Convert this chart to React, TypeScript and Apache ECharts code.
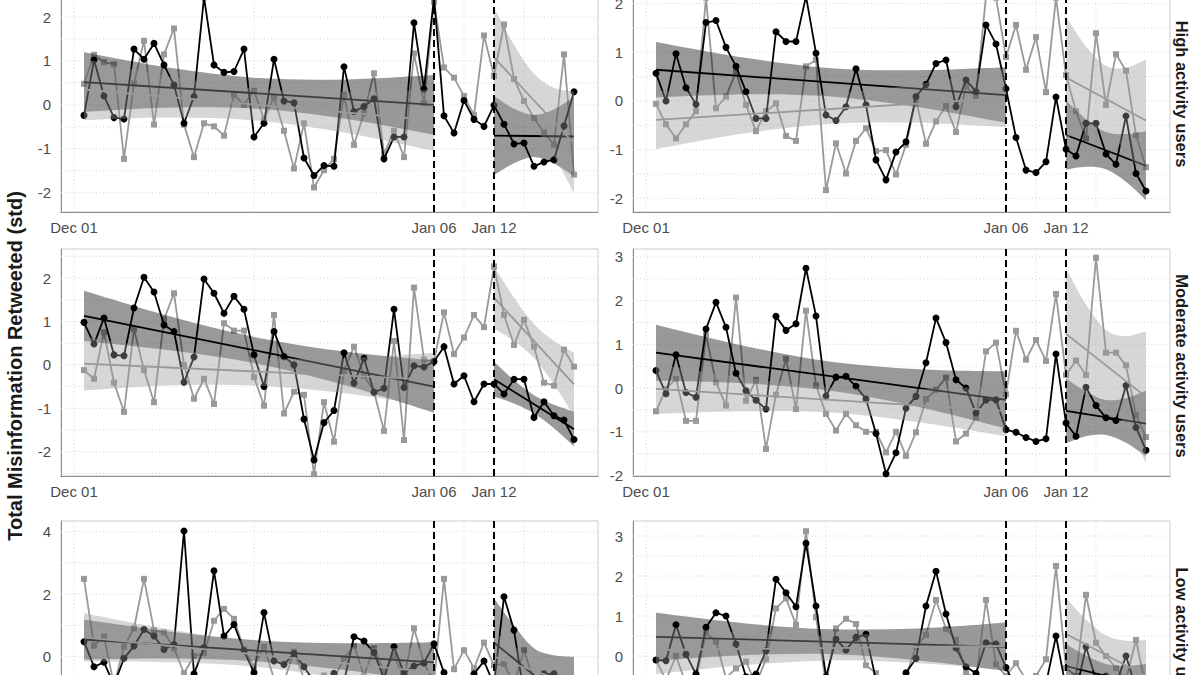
import React, { useEffect, useRef } from "react";
import * as echarts from "echarts";

// ---------- x axis (days since Dec 01) ----------
const DAYS = [1, 2, 3, 4, 5, 6, 7, 8, 9, 10, 11, 12, 13, 14, 15, 16, 17, 18, 19, 20, 21, 22, 23, 24, 25, 26, 27, 28, 29, 30, 31, 32, 33, 34, 35, 36, 37, 38, 39, 40, 41, 42, 43, 44, 45, 46, 47, 48, 49, 50];
const X_TICKS = [0, 36, 42];
const X_TICK_LABELS = ["Dec 01", "Jan 06", "Jan 12"];
const X_GRID = [0, 18, 39, 45];
const CUTOFFS = [36, 42];
const PRE_X = [1, 9.75, 18.5, 27.25, 36];
const POST_X = [42, 44, 46, 48, 50];
const PRE_FIT_X = [1, 36];
const POST_FIT_X = [42, 50];
const X_MIN = -1.3;
const X_MAX = 52.4;

// ---------- High activity users ----------
const HL_BLACK = [-0.24, 1.02, 0.20, -0.29, -0.32, 1.27, 1.04, 1.40, 0.91, 0.45, -0.42, 0.19, 2.45, 0.91, 0.74, 0.76, 1.27, -0.73, -0.42, 1.04, 0.09, 0.05, -1.21, -1.61, -1.38, -1.40, 0.87, -0.15, -0.04, 0.14, -1.23, -0.73, -0.73, 1.87, 0.36, 2.45, -0.25, -0.64, 0.10, -0.33, -0.49, -0.01, -0.44, -0.89, -0.87, -1.40, -1.30, -1.25, -0.48, 0.30];
const HL_GRAY = [0.48, 1.14, 0.97, 0.92, -1.23, 0.49, 1.46, -0.45, 1.15, 1.74, -0.45, -1.19, -0.42, -0.49, -0.70, 0.23, 0.00, 0.32, -0.33, 0.17, -0.59, -1.45, -0.42, -1.88, -1.49, -1.23, 0.23, -0.91, -0.19, 0.72, -1.11, -0.59, -1.19, 1.17, 0.04, 2.35, 0.85, 0.62, 0.20, -0.23, 1.58, 0.66, 1.83, 0.59, 0.09, -0.30, -0.63, -0.91, 1.15, -1.59];
const HL_BLACK_PRE = { fit: [0.52, 0.0], up: [1.20, 0.84, 0.61, 0.58, 0.68], lo: [-0.16, -0.06, -0.09, -0.32, -0.68] };
const HL_GRAY_PRE = { fit: [0.35, -0.35], up: [1.05, 0.64, 0.36, 0.29, 0.35], lo: [-0.35, -0.29, -0.36, -0.64, -1.05] };
const HL_BLACK_POST = { fit: [-0.70, -0.72], up: [0.20, -0.09, -0.23, -0.10, 0.18], lo: [-1.60, -1.33, -1.19, -1.34, -1.62] };
const HL_GRAY_POST = { fit: [1.08, -0.88], up: [2.21, 1.37, 0.71, 0.39, 0.30], lo: [-0.05, -0.19, -0.51, -1.17, -2.01] };

const HR_BLACK = [0.57, 0.00, 0.97, 0.27, -0.07, 1.61, 1.65, 1.10, 0.71, 0.19, -0.36, -0.36, 1.42, 1.22, 1.22, 2.15, 0.98, -0.29, -0.40, -0.12, 0.66, -0.08, -1.21, -1.62, -1.05, -0.84, 0.09, 0.34, 0.77, 0.84, -0.12, 0.43, 0.19, 1.56, 1.17, 0.25, -0.75, -1.42, -1.47, -1.25, 0.08, -0.99, -1.13, -0.46, -0.46, -1.09, -1.30, -0.31, -1.49, -1.85];
const HR_GRAY = [-0.06, -0.48, -0.77, -0.48, -0.21, 2.12, -0.15, 0.09, 0.60, -0.08, -0.62, -0.21, -0.05, -0.72, -0.82, 0.71, 0.84, -1.83, -0.87, -1.49, -0.82, -0.56, -1.03, -1.01, -1.51, -0.90, 0.02, -0.88, -0.42, -0.10, -0.64, 0.30, 0.09, 2.15, 2.12, 0.90, 1.56, 0.64, 1.31, 0.18, 2.12, 0.53, -0.21, -0.77, 1.39, -0.08, 0.96, 0.62, -0.70, -1.36];
const HR_BLACK_PRE = { fit: [0.64, 0.12], up: [1.21, 0.89, 0.67, 0.63, 0.69], lo: [0.07, 0.13, 0.09, -0.13, -0.45] };
const HR_GRAY_PRE = { fit: [-0.39, 0.06], up: [0.21, 0.13, 0.15, 0.35, 0.66], lo: [-0.99, -0.67, -0.47, -0.45, -0.54] };
const HR_BLACK_POST = { fit: [-0.70, -1.33], up: [0.01, -0.37, -0.64, -0.68, -0.62], lo: [-1.41, -1.35, -1.40, -1.66, -2.04] };
const HR_GRAY_POST = { fit: [0.48, -0.40], up: [1.73, 1.12, 0.72, 0.68, 0.85], lo: [-0.77, -0.60, -0.64, -1.04, -1.65] };

// ---------- Moderate activity users ----------
const ML_BLACK = [0.98, 0.48, 1.08, 0.23, 0.21, 1.31, 2.02, 1.68, 0.92, 0.77, -0.40, 0.18, 1.98, 1.65, 1.19, 1.58, 1.28, 0.23, -0.50, 0.77, 0.19, 0.00, -1.25, -2.19, -1.33, -1.05, 0.28, -0.42, 0.15, -0.63, -0.54, 1.28, -0.52, -0.02, -0.05, 0.08, 0.42, -0.44, -0.25, -0.85, -0.44, -0.44, -0.67, -0.33, -0.33, -1.21, -0.85, -1.17, -1.27, -1.72];
const ML_GRAY = [-0.12, -0.32, 0.75, -0.41, -1.08, 0.82, -0.12, -0.86, 1.05, 1.65, 0.00, -0.78, -0.32, -0.90, 0.96, 0.79, 0.79, -0.28, -0.94, 1.15, -1.12, -0.62, -0.69, -2.52, -0.86, -1.77, -0.14, 0.42, -0.25, -0.62, -1.52, 0.55, -1.73, 1.78, 0.12, 0.09, 1.21, 0.25, 0.63, 1.15, 0.87, 2.27, 1.15, 0.46, 1.04, 0.42, -0.41, -0.48, 0.35, -0.04];
const ML_BLACK_PRE = { fit: [1.13, -0.50], up: [1.71, 1.11, 0.62, 0.30, 0.10], lo: [0.55, 0.33, 0.02, -0.48, -1.10] };
const ML_GRAY_PRE = { fit: [0.03, -0.34], up: [0.65, 0.35, 0.16, 0.16, 0.28], lo: [-0.59, -0.47, -0.48, -0.66, -0.96] };
const ML_BLACK_POST = { fit: [-0.33, -1.48], up: [0.07, -0.35, -0.70, -0.92, -1.08], lo: [-0.73, -0.89, -1.12, -1.46, -1.88] };
const ML_GRAY_POST = { fit: [1.55, -0.45], up: [2.27, 1.55, 0.94, 0.55, 0.28], lo: [0.83, 0.55, 0.16, -0.45, -1.17] };

const MR_BLACK = [0.40, -0.13, 0.76, -0.10, -0.21, 1.35, 1.96, 1.39, 0.34, -0.06, -0.28, -0.48, 1.64, 1.32, 1.47, 2.74, 1.65, -0.18, 0.25, 0.27, 0.04, -0.25, -1.04, -1.96, -1.48, -0.46, -0.19, 0.58, 1.60, 1.04, 0.19, 0.00, -0.57, -0.27, -0.27, -0.95, -1.01, -1.13, -1.22, -1.16, 0.78, -0.80, -1.10, 0.02, -0.40, -0.68, -0.74, 0.06, -0.90, -1.42];
const MR_GRAY = [-0.53, -0.02, 0.21, -0.75, -0.75, 1.22, 0.13, -0.40, 2.07, -0.29, 0.19, -1.39, -0.15, 0.67, -0.48, 1.77, 0.06, -0.59, -0.97, -0.59, -0.85, -1.00, -1.00, -1.47, -1.00, -1.55, -1.01, -0.25, -0.04, 0.24, -1.22, -1.04, -0.67, 0.84, 1.04, -0.14, 1.31, 0.65, 1.10, 0.62, 2.15, 0.30, 0.63, 0.30, 2.98, 0.81, 0.81, 0.52, -0.62, -1.12];
const MR_BLACK_PRE = { fit: [0.81, -0.27], up: [1.45, 0.97, 0.60, 0.43, 0.38], lo: [0.17, 0.11, -0.06, -0.43, -0.92] };
const MR_GRAY_PRE = { fit: [-0.02, -0.52], up: [0.55, 0.24, 0.02, -0.02, 0.06], lo: [-0.59, -0.53, -0.56, -0.78, -1.10] };
const MR_BLACK_POST = { fit: [-0.52, -0.81], up: [0.22, -0.08, -0.27, -0.23, -0.06], lo: [-1.26, -1.10, -1.07, -1.25, -1.56] };
const MR_GRAY_POST = { fit: [1.24, -0.20], up: [2.74, 1.91, 1.33, 1.19, 1.30], lo: [-0.26, -0.15, -0.29, -0.87, -1.70] };

// ---------- Low activity users ----------
const LL_BLACK = [0.48, -0.32, -0.18, -0.90, -0.05, 0.34, 0.87, 0.66, 0.23, 0.39, 4.02, -0.55, 0.29, 2.75, 0.66, 1.03, 0.19, -0.51, 1.41, -0.14, -0.25, 0.10, -0.32, -0.80, -1.00, -0.53, -0.80, 0.64, 0.50, 0.13, -0.70, 0.32, -0.53, -0.30, -0.20, 0.41, -0.51, -0.90, -0.80, -0.55, -0.14, -0.90, 1.92, 0.85, -1.20, -1.67, -0.55, -0.55, -1.60, -1.60];
const LL_GRAY = [2.49, 0.35, 0.64, -0.90, 0.32, 0.91, 2.49, 0.85, 0.78, 0.27, -0.53, 0.02, 0.11, 1.15, 1.53, 1.21, 0.23, -0.32, 0.32, -0.70, -0.80, 0.16, -0.70, -0.90, -0.60, -0.70, -0.05, 0.35, -0.60, 0.27, -0.48, 0.05, -0.70, 0.91, -0.21, -0.80, 2.49, -0.40, 0.21, -0.37, 0.45, -0.27, -0.23, -0.90, 0.21, -0.80, -0.70, -1.20, -0.90, -1.40];
const LL_BLACK_PRE = { fit: [0.55, -0.18], up: [1.19, 0.80, 0.52, 0.43, 0.46], lo: [-0.09, -0.06, -0.15, -0.43, -0.82] };
const LL_GRAY_PRE = { fit: [0.62, -0.50], up: [1.39, 0.86, 0.45, 0.30, 0.27], lo: [-0.15, -0.18, -0.33, -0.74, -1.27] };
const LL_BLACK_POST = { fit: [0.45, -1.63], up: [1.87, 1.00, 0.27, 0.05, 0.00], lo: [-0.97, -1.14, -1.45, -2.27, -3.26] };
const LL_GRAY_POST = { fit: [0.00, -0.90], up: [0.80, 0.33, -0.02, -0.13, -0.10], lo: [-0.80, -0.78, -0.88, -1.23, -1.70] };

const LR_BLACK = [-0.10, -0.12, 0.78, 0.04, -0.45, 0.72, 1.08, 1.00, 0.30, -0.52, -0.45, 0.13, 1.92, 1.58, 1.23, 2.82, 1.25, -0.52, 0.42, 0.15, 0.46, 0.54, -0.60, -0.90, -0.70, -0.42, -0.06, 1.25, 2.12, 1.05, 0.20, -0.27, -0.43, 0.33, 0.30, -0.29, -0.80, -1.00, -0.90, -0.70, 0.50, -0.80, -0.90, 0.23, -0.60, -0.50, -0.70, 0.00, -0.80, -1.10];
const LR_GRAY = [-0.10, -0.60, 0.00, -0.70, -0.60, 0.58, 0.36, -0.55, -0.31, -0.14, -0.70, -0.08, 1.19, 1.44, 0.78, 3.12, 0.97, -0.70, 0.69, 0.93, 0.80, -0.23, -0.43, -0.80, -0.60, -0.50, 0.23, 0.53, 1.40, 0.68, 0.40, -0.40, -0.60, 1.40, -0.21, -0.50, -0.18, -0.60, -0.50, -0.08, 2.25, -0.30, -0.50, 1.53, 0.33, 0.00, -0.30, -0.60, 0.40, -0.80];
const LR_BLACK_PRE = { fit: [0.48, 0.23], up: [1.08, 0.82, 0.67, 0.69, 0.83], lo: [-0.12, 0.02, 0.05, -0.11, -0.37] };
const LR_GRAY_PRE = { fit: [0.15, 0.25], up: [0.75, 0.58, 0.51, 0.63, 0.85], lo: [-0.45, -0.23, -0.11, -0.18, -0.35] };
const LR_BLACK_POST = { fit: [-0.25, -0.75], up: [0.30, 0.01, -0.20, -0.25, -0.20], lo: [-0.80, -0.76, -0.80, -1.01, -1.30] };
const LR_GRAY_POST = { fit: [0.55, -0.50], up: [1.45, 0.91, 0.51, 0.38, 0.40], lo: [-0.35, -0.33, -0.46, -0.86, -1.40] };

const STRIP_LABELS = ["High activity users", "Moderate activity users", "Low activity users"];
const Y_TITLE = "Total Misinformation Retweeted (std)";

// ---------- layout / panel table ----------
const PANEL_W = 537;
const PANEL_H = 227;
const COL_LEFT = [61, 633];
const ROW_TOP = [-15, 249, 521];
const STRIP_CENTER_Y = [94, 366, 639];

const PANELS = [
  { row: 0, col: 0, yMin: -2.44, yMax: 2.73, yTicks: [-2, -1, 0, 1, 2], gridStep: 0.5, black: HL_BLACK, gray: HL_GRAY, bp: HL_BLACK_PRE, gp: HL_GRAY_PRE, bq: HL_BLACK_POST, gq: HL_GRAY_POST },
  { row: 0, col: 1, yMin: -2.28, yMax: 2.38, yTicks: [-2, -1, 0, 1, 2], gridStep: 0.5, black: HR_BLACK, gray: HR_GRAY, bp: HR_BLACK_PRE, gp: HR_GRAY_PRE, bq: HR_BLACK_POST, gq: HR_GRAY_POST },
  { row: 1, col: 0, yMin: -2.56, yMax: 2.67, yTicks: [-2, -1, 0, 1, 2], gridStep: 0.5, black: ML_BLACK, gray: ML_GRAY, bp: ML_BLACK_PRE, gp: ML_GRAY_PRE, bq: ML_BLACK_POST, gq: ML_GRAY_POST },
  { row: 1, col: 1, yMin: -2.01, yMax: 3.18, yTicks: [-2, -1, 0, 1, 2, 3], gridStep: 0.5, black: MR_BLACK, gray: MR_GRAY, bp: MR_BLACK_PRE, gp: MR_GRAY_PRE, bq: MR_BLACK_POST, gq: MR_GRAY_POST },
  { row: 2, col: 0, yMin: -2.92, yMax: 4.34, yTicks: [-2, 0, 2, 4], gridStep: 1, black: LL_BLACK, gray: LL_GRAY, bp: LL_BLACK_PRE, gp: LL_GRAY_PRE, bq: LL_BLACK_POST, gq: LL_GRAY_POST },
  { row: 2, col: 1, yMin: -2.3, yMax: 3.375, yTicks: [-2, -1, 0, 1, 2, 3], gridStep: 0.5, black: LR_BLACK, gray: LR_GRAY, bp: LR_BLACK_PRE, gp: LR_GRAY_PRE, bq: LR_BLACK_POST, gq: LR_GRAY_POST },
];

const FONT = '"Liberation Sans", Arial, Helvetica, sans-serif';
const DARK_FILL = "rgba(0,0,0,0.4)";
const LIGHT_FILL = "rgba(153,153,153,0.4)";
const GRAY = "#999999";

function curveThrough(P: number[][]) {
  let s = "";
  for (let i = 0; i < P.length - 1; i++) {
    const p0 = P[i - 1] || P[i];
    const p1 = P[i];
    const p2 = P[i + 1];
    const p3 = P[i + 2] || P[i + 1];
    const c1 = [p1[0] + (p2[0] - p0[0]) / 6, p1[1] + (p2[1] - p0[1]) / 6];
    const c2 = [p2[0] - (p3[0] - p1[0]) / 6, p2[1] - (p3[1] - p1[1]) / 6];
    s += ` C${c1[0]},${c1[1]} ${c2[0]},${c2[1]} ${p2[0]},${p2[1]}`;
  }
  return s;
}

function bandSeries(idx: number, xs: number[], band: any, fill: string, z: number) {
  return {
    type: "custom",
    xAxisIndex: idx,
    yAxisIndex: idx,
    z,
    silent: true,
    clip: true,
    data: [[xs[0], band.up[0]]],
    renderItem: (params: any, api: any) => {
      if (params.dataIndex !== 0) return null;
      const U = xs.map((x, i) => api.coord([x, band.up[i]]));
      const L = xs.map((x, i) => api.coord([x, band.lo[i]])).reverse();
      const d = `M${U[0][0]},${U[0][1]}` + curveThrough(U) + ` L${L[0][0]},${L[0][1]}` + curveThrough(L) + " Z";
      return { type: "path", shape: { pathData: d }, style: { fill, stroke: null } };
    },
  };
}

function fitSeries(idx: number, xs: number[], band: any, color: string, z: number) {
  return {
    type: "line",
    xAxisIndex: idx,
    yAxisIndex: idx,
    z,
    silent: true,
    symbol: "none",
    data: [[xs[0], band.fit[0]], [xs[1], band.fit[1]]],
    lineStyle: { color, width: 1.8 },
  };
}

function buildOption() {
  const grid: any[] = [];
  const xAxis: any[] = [];
  const yAxis: any[] = [];
  const series: any[] = [];
  const graphic: any[] = [];

  PANELS.forEach((p, idx) => {
    grid.push({
      left: COL_LEFT[p.col],
      top: ROW_TOP[p.row],
      width: PANEL_W,
      height: PANEL_H,
      show: true,
      borderColor: "#cdcdcd",
      borderWidth: 1,
      backgroundColor: "#ffffff",
      containLabel: false,
      outerBoundsMode: "none",
    });
    xAxis.push({
      type: "value",
      gridIndex: idx,
      min: X_MIN,
      max: X_MAX,
      axisLine: { show: true, onZero: false, lineStyle: { color: "#8c8c8c", width: 1 } },
      axisTick: { show: false },
      splitLine: { show: false },
      axisLabel: {
        customValues: X_TICKS,
        formatter: (v: number) => {
          const k = X_TICKS.indexOf(v);
          return k >= 0 ? X_TICK_LABELS[k] : "";
        },
        color: "#4d4d4d",
        fontSize: 15,
        fontFamily: FONT,
        margin: 8,
      },
    });
    const step = p.yTicks[1] - p.yTicks[0];
    yAxis.push({
      type: "value",
      gridIndex: idx,
      min: p.yMin,
      max: p.yMax,
      minInterval: step,
      maxInterval: step,
      axisLine: { show: true, onZero: false, lineStyle: { color: "#8c8c8c", width: 1 } },
      axisTick: { show: false },
      splitLine: { show: false },
      axisLabel: {
        customValues: p.yTicks,
        formatter: (v: number) => String(v),
        color: "#4d4d4d",
        fontSize: 15,
        fontFamily: FONT,
        margin: 10,
      },
    });

    // background grid lines
    series.push({
      type: "custom",
      xAxisIndex: idx,
      yAxisIndex: idx,
      z: 1,
      silent: true,
      data: [[0, 0]],
      renderItem: (params: any, api: any) => {
        if (params.dataIndex !== 0) return null;
        const children: any[] = [];
        const style = { stroke: "#d6d6d6", lineWidth: 1, lineDash: [1, 2.5] };
        for (let v = Math.ceil(p.yMin / p.gridStep) * p.gridStep; v <= p.yMax + 1e-9; v += p.gridStep) {
          const a = api.coord([X_MIN, v]);
          const b = api.coord([X_MAX, v]);
          children.push({ type: "line", shape: { x1: a[0], y1: a[1], x2: b[0], y2: b[1] }, style });
        }
        X_GRID.forEach((x) => {
          const a = api.coord([x, p.yMin]);
          const b = api.coord([x, p.yMax]);
          children.push({ type: "line", shape: { x1: a[0], y1: a[1], x2: b[0], y2: b[1] }, style });
        });
        return { type: "group", children };
      },
    });

    // data lines
    series.push({
      type: "line",
      xAxisIndex: idx,
      yAxisIndex: idx,
      z: 2,
      data: DAYS.map((d, k) => [d, p.gray[k]]),
      symbol: "rect",
      symbolSize: 6,
      showSymbol: true,
      lineStyle: { color: GRAY, width: 1.8 },
      itemStyle: { color: GRAY },
    });
    series.push({
      type: "line",
      xAxisIndex: idx,
      yAxisIndex: idx,
      z: 3,
      data: DAYS.map((d, k) => [d, p.black[k]]),
      symbol: "circle",
      symbolSize: 7,
      showSymbol: true,
      lineStyle: { color: "#000000", width: 1.8 },
      itemStyle: { color: "#000000" },
    });

    // smooths: black group then gray group
    series.push(bandSeries(idx, PRE_X, p.bp, DARK_FILL, 4));
    series.push(bandSeries(idx, POST_X, p.bq, DARK_FILL, 4));
    series.push(fitSeries(idx, PRE_FIT_X, p.bp, "#000000", 5));
    series.push(fitSeries(idx, POST_FIT_X, p.bq, "#000000", 5));
    series.push(bandSeries(idx, PRE_X, p.gp, LIGHT_FILL, 6));
    series.push(bandSeries(idx, POST_X, p.gq, LIGHT_FILL, 6));
    series.push(fitSeries(idx, PRE_FIT_X, p.gp, GRAY, 7));
    series.push(fitSeries(idx, POST_FIT_X, p.gq, GRAY, 7));

    // dashed cut-off lines
    series.push({
      type: "custom",
      xAxisIndex: idx,
      yAxisIndex: idx,
      z: 8,
      silent: true,
      data: [[CUTOFFS[0], 0]],
      renderItem: (params: any, api: any) => {
        if (params.dataIndex !== 0) return null;
        const children = CUTOFFS.map((x) => {
          const a = api.coord([x, p.yMin]);
          const b = api.coord([x, p.yMax]);
          return {
            type: "line",
            shape: { x1: a[0], y1: a[1], x2: b[0], y2: b[1] },
            style: { stroke: "#000000", lineWidth: 2, lineDash: [7, 4] },
          };
        });
        return { type: "group", children };
      },
    });
  });

  STRIP_LABELS.forEach((label, r) => {
    graphic.push({
      type: "text",
      x: 1182,
      y: STRIP_CENTER_Y[r],
      rotation: -Math.PI / 2,
      style: {
        text: label,
        font: `bold 16.5px ${FONT}`,
        fill: "#1a1a1a",
        textAlign: "center",
        textVerticalAlign: "middle",
        align: "center",
        verticalAlign: "middle",
      },
    });
  });
  graphic.push({
    type: "text",
    x: 15,
    y: 366,
    rotation: Math.PI / 2,
    style: {
      text: Y_TITLE,
      font: `bold 20px ${FONT}`,
      fill: "#1a1a1a",
      textAlign: "center",
      textVerticalAlign: "middle",
      align: "center",
      verticalAlign: "middle",
    },
  });

  return {
    animation: false,
    backgroundColor: "#ffffff",
    textStyle: { fontFamily: FONT },
    grid,
    xAxis,
    yAxis,
    series,
    graphic,
  };
}

export default function App() {
  const ref = useRef<HTMLDivElement>(null);
  useEffect(() => {
    if (!ref.current) return;
    const chart = echarts.init(ref.current, null, { renderer: "svg" });
    chart.setOption(buildOption() as any);
    return () => chart.dispose();
  }, []);
  return (
    <div
      ref={ref}
      style={{ position: "absolute", left: 0, top: 0, width: 1200, height: 675, background: "#ffffff" }}
    />
  );
}
